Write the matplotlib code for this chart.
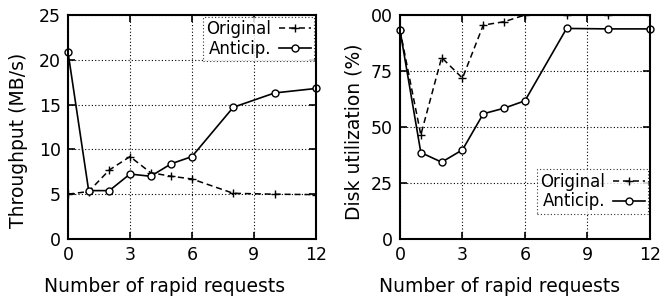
import matplotlib
matplotlib.use("Agg")
import matplotlib.pyplot as plt

plt.rcParams['font.family'] = ['DejaVu Sans']

x = [0, 1, 2, 3, 4, 5, 6, 8, 10, 12]
thr_original = [5.0, 5.3, 7.7, 9.2, 7.4, 7.0, 6.7, 5.1, 5.0, 4.95]
thr_anticip = [20.85, 5.4, 5.4, 7.25, 7.0, 8.4, 9.2, 14.7, 16.3, 16.8]
util_original = [93.3, 46.5, 81.0, 71.8, 95.5, 97.0, 100.0, 100.0, 100.0, 100.0]
util_anticip = [93.3, 38.6, 34.3, 39.8, 55.9, 58.4, 61.7, 94.0, 93.8, 93.8]

xticks = [0, 3, 6, 9, 12]
thr_yticks = [0, 5, 10, 15, 20, 25]
util_yticks = [0, 25, 50, 75, 100]
util_yticklabels = ['0', '25', '50', '75', '00']

xlabel = 'Number of rapid requests'
thr_ylabel = 'Throughput (MB/s)'
util_ylabel = 'Disk utilization (%)'
labels = ['Original', 'Anticip.']

fig = plt.figure(figsize=(6.7, 2.96), dpi=100)
ax1 = fig.add_axes([0.1015, 0.1926, 0.370, 0.7567])
ax2 = fig.add_axes([0.597, 0.1926, 0.373, 0.7567])


def style(ax, ylo, yhi, yt, ytl=None):
    ax.set_xlim(0, 12)
    ax.set_ylim(ylo, yhi)
    ax.set_xticks(xticks)
    ax.set_yticks(yt)
    if ytl is not None:
        ax.set_yticklabels(ytl)
    ax.tick_params(direction='in', top=True, right=True, labelsize=12.5,
                   length=5, width=1.2, pad=5)
    ax.grid(True, linestyle=(0, (1, 2)), color='black', linewidth=0.8)
    for s in ax.spines.values():
        s.set_linewidth(1.5)
        s.set_zorder(4)
    ax.set_xlabel(xlabel, fontsize=13.5)


def plot(ax, yo, ya, loc):
    ax.plot(x, yo, color='black', linestyle=(0, (4, 2.5)), linewidth=1.1,
            marker='+', markersize=6, markeredgewidth=1.0, label=labels[0],
            clip_on=True, zorder=3)
    ax.plot(x, ya, color='black', linestyle='-', linewidth=1.2,
            marker='o', markersize=5, markerfacecolor='white',
            markeredgewidth=1.0, label=labels[1], clip_on=False, zorder=3)
    leg = ax.legend(loc=loc, markerfirst=False, fontsize=12, frameon=True,
                    fancybox=False, borderpad=0.2, labelspacing=0.1,
                    handlelength=1.9, handletextpad=0.5, borderaxespad=0.1)
    leg.get_frame().set_edgecolor('black')
    leg.get_frame().set_linestyle((0, (1, 2)))
    leg.get_frame().set_linewidth(0.8)
    return leg


style(ax1, 0, 25, thr_yticks)
plot(ax1, thr_original, thr_anticip, 'upper right')
ax1.set_ylabel(thr_ylabel, fontsize=13.5)
ax1.xaxis.set_label_coords(0.39, -0.17)
ax1.yaxis.set_label_coords(-0.16, 0.44)

style(ax2, 0, 100, util_yticks, util_yticklabels)
plot(ax2, util_original, util_anticip, 'lower right')
ax2.legend_.set_bbox_to_anchor((1.0, 0.105), transform=ax2.transAxes)
ax2.set_ylabel(util_ylabel, fontsize=13.5)
ax2.xaxis.set_label_coords(0.40, -0.17)
ax2.yaxis.set_label_coords(-0.148, 0.477)

fig.savefig('out.png', dpi=100)
